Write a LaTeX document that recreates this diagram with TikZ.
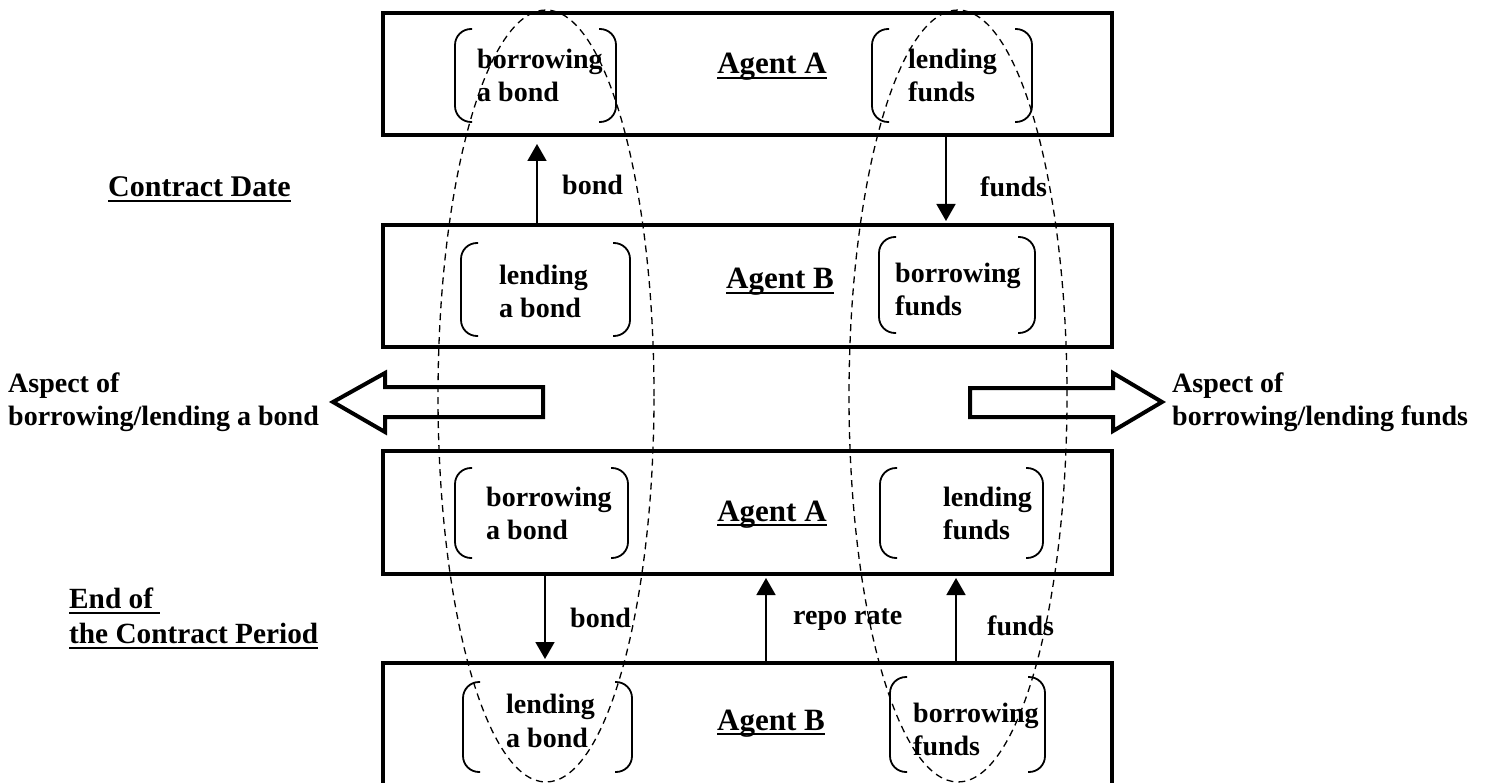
\documentclass[tikz,border=0pt]{standalone}
\usepackage{fontspec}
\setmainfont{Liberation Serif}
\newcommand{\myul}[1]{\setbox0\hbox{#1}\rlap{\rule[-4.8pt]{\wd0}{1.8pt}}\box0}
\usetikzlibrary{arrows.meta}
\begin{document}
\begin{tikzpicture}[x=1pt,y=-1pt,
  font=\fontsize{28}{33}\selectfont\bfseries,
  agentbox/.style={draw, line width=4pt, minimum width=729pt, minimum height=122pt, inner sep=0pt},
  txt/.style={inner sep=0pt, align=left, anchor=north west},
  lbl/.style={inner sep=0pt, anchor=base west},
  agent/.style={inner sep=0pt, anchor=base, font=\fontsize{31}{35}\selectfont\bfseries},
  arr/.style={line width=1.8pt, -{Triangle[length=17pt,width=19pt]}},
  brk/.style={line width=1.8pt, rounded corners=16pt},
  oval/.style={line width=1.3pt, dash pattern=on 7pt off 5pt},
  blockarrow/.style={line width=4pt, fill=white, line join=miter}
]
\useasboundingbox (0,0) rectangle (1487,783);
\clip (0,0) rectangle (1487,783);

% boxes
\node[agentbox] (box1) at (747.5,74) {};
\node[agentbox] (box2) at (747.5,286) {};
\node[agentbox, minimum height=123pt] (box3) at (747.5,512.5) {};
\node[agentbox, minimum height=130pt] (box4) at (747.5,728) {};

% brackets
\newcommand{\brackpair}[4]{%
  \draw[brk] (#1+17,#2) -- (#1,#2) -- (#1,#4) -- (#1+17,#4);
  \draw[brk] (#3-17,#2) -- (#3,#2) -- (#3,#4) -- (#3-17,#4);}
\brackpair{455}{29}{616}{122}
\brackpair{872}{29}{1032}{122}
\brackpair{461}{243}{630}{336}
\brackpair{879}{237}{1035}{333}
\brackpair{455}{468}{628}{558}
\brackpair{880}{468}{1043}{558}
\brackpair{463}{682}{632}{772}
\brackpair{890}{677}{1045}{772}

% texts inside boxes
\node[txt] (t1l) at (477,49) {borrowing\\a bond};
\node[txt] (t1r) at (908,49) {lending\\funds};
\node[agent] (ag1) at (772,74) {\myul{Agent A}};
\node[txt] (t2l) at (499,265) {lending\\a bond};
\node[txt] (t2r) at (895,263) {borrowing\\funds};
\node[agent] (ag2) at (780,289) {\myul{Agent B}};
\node[txt] (t3l) at (486,487) {borrowing\\a bond};
\node[txt] (t3r) at (943,487) {lending\\funds};
\node[agent] (ag3) at (772,521) {\myul{Agent A}};
\node[txt, font=\fontsize{28}{34}\selectfont\bfseries] (t4l) at (506,694) {lending\\a bond};
\node[txt] (t4r) at (913,703) {borrowing\\funds};
\node[agent] (ag4) at (771,730) {\myul{Agent B}};

% arrows between boxes
\coordinate (a1) at (537,0);
\coordinate (a2) at (946,0);
\coordinate (a3) at (545,0);
\coordinate (a4) at (766,0);
\coordinate (a5) at (956,0);
\draw[arr, shorten >=7pt] (box2.north -| a1) -- (box1.south -| a1);
\draw[arr, shorten >=2pt] (box1.south -| a2) -- (box2.north -| a2);
\draw[arr, shorten >=2pt] (box3.south -| a3) -- (box4.north -| a3);
\draw[arr, shorten >=2pt] (box4.north -| a4) -- (box3.south -| a4);
\draw[arr, shorten >=2pt] (box4.north -| a5) -- (box3.south -| a5);

% arrow labels
\node[lbl] (l1) at (562,195) {bond};
\node[lbl] (l2) at (980,197) {funds};
\node[lbl] (l3) at (570,627) {bond};
\node[lbl] (l4) at (793,624) {repo rate};
\node[lbl] (l5) at (987,635) {funds};

% side texts
\node[lbl, font=\fontsize{30}{35}\selectfont\bfseries] (cd) at (108,197) {\myul{Contract Date}};
\node[txt, font=\fontsize{29.3}{35}\selectfont\bfseries] (ecp) at (69,588) {\myul{End of\ }\\\myul{the Contract Period}};
\node[txt] (asl) at (8,373) {Aspect of\\borrowing/lending a bond};
\node[txt] (asr) at (1172,373) {Aspect of\\borrowing/lending funds};

% block arrows
\draw[blockarrow] (543,387) -- (385,387) -- (385,373) -- (333,402) -- (385,432) -- (385,417) -- (543,417) -- cycle;
\draw[blockarrow] (970,388) -- (1113,388) -- (1113,373) -- (1162,402) -- (1113,431) -- (1113,417) -- (970,417) -- cycle;

% dashed ovals
\draw[oval] (546,396) ellipse [x radius=108pt, y radius=386pt];
\draw[oval] (958,396) ellipse [x radius=109pt, y radius=386pt];
\end{tikzpicture}
\end{document}
